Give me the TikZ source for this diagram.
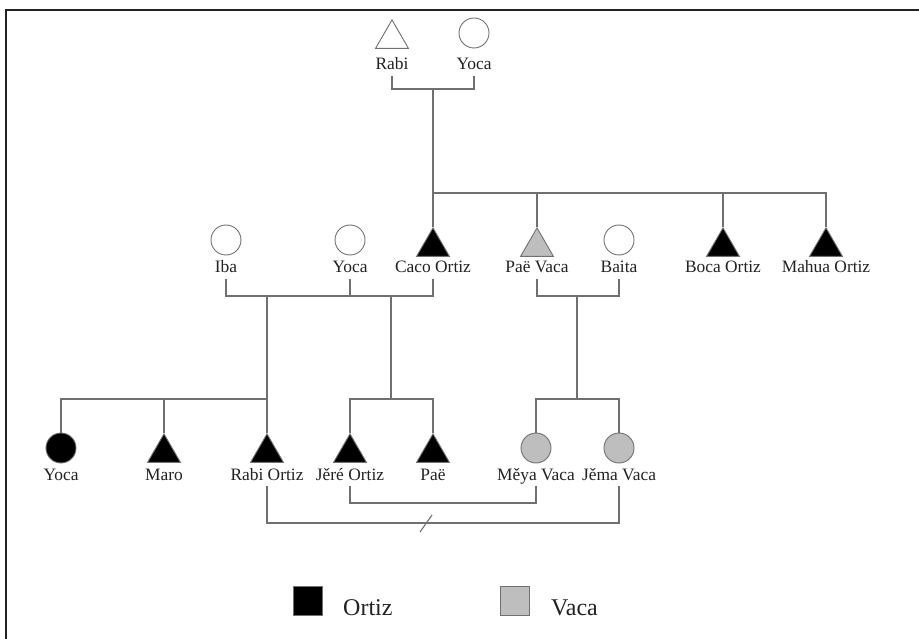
\documentclass[tikz,border=0pt]{standalone}
\usepackage{fontspec}
\setmainfont{Liberation Serif}
\usepackage{tikz}
\usetikzlibrary{shapes.geometric}
\definecolor{linegray}{HTML}{707070}
\definecolor{vacagray}{HTML}{BEBEBE}
\definecolor{inkdark}{HTML}{222222}

\tikzset{
  male/.style={regular polygon, regular polygon sides=3, minimum size=38pt,
    inner sep=0pt, draw=linegray, line width=0.9pt, anchor=north},
  female/.style={circle, minimum size=30pt, inner sep=0pt, draw=linegray, line width=0.9pt},
  lbl/.style={font=\fontsize{17.4}{19}\selectfont, text=inkdark, inner sep=2pt,
    text height=12pt, text depth=4pt, anchor=base},
  kin/.style={draw=linegray, line width=1.1pt},
  keybox/.style={rectangle, minimum size=29pt, inner sep=0pt, draw=linegray, line width=0.9pt},
  keytext/.style={font=\fontsize{24}{26}\selectfont, text=inkdark, inner sep=0pt, anchor=base west}
}

\begin{document}
\begin{tikzpicture}[x=1pt, y=-1pt]
      \useasboundingbox (0,0) rectangle (919,639);
      \draw[inkdark, line width=1.6pt] (6,639) -- (6,10) -- (919,10);

      % first generation
      \node[male] (rabi) at (392,19) {};
      \node[female] (yoca) at (474,33) {};
      \node[lbl] (rabi-l) at (392,70) {Rabi};
      \node[lbl] (yoca-l) at (474,70) {Yoca};

      % second generation
      \node[female] (iba) at (226,240) {};
      \node[female] (yoca2) at (350,240) {};
      \node[male, fill=black] (caco) at (433,227) {};
      \node[male, fill=vacagray] (paev) at (537,227) {};
      \node[female] (baita) at (619,240) {};
      \node[male, fill=black] (boca) at (723,227) {};
      \node[male, fill=black] (mahua) at (826,227) {};

      \node[lbl] (iba-l) at (226,273) {Iba};
      \node[lbl] (yoca2-l) at (350,273) {Yoca};
      \node[lbl] (caco-l) at (433,273) {Caco Ortiz};
      \node[lbl] (paev-l) at (537,273) {Paë Vaca};
      \node[lbl] (baita-l) at (619,273) {Baita};
      \node[lbl] (boca-l) at (723,273) {Boca Ortiz};
      \node[lbl] (mahua-l) at (826,273) {Mahua Ortiz};

      % third generation
      \node[female, fill=black] (yoca3) at (61,448) {};
      \node[male, fill=black] (maro) at (164,433) {};
      \node[male, fill=black] (rabio) at (267,433) {};
      \node[male, fill=black] (jere) at (350,433) {};
      \node[male, fill=black] (pae) at (433,433) {};
      \node[female, fill=vacagray] (meya) at (536,448) {};
      \node[female, fill=vacagray] (jema) at (619,448) {};

      \node[lbl] (yoca3-l) at (61,480) {Yoca};
      \node[lbl] (maro-l) at (164,480) {Maro};
      \node[lbl] (rabio-l) at (267,480) {Rabi Ortiz};
      \node[lbl] (jere-l) at (350,480) {Jěré Ortiz};
      \node[lbl] (pae-l) at (433,480) {Paë};
      \node[lbl] (meya-l) at (536,480) {Měya Vaca};
      \node[lbl] (jema-l) at (619,480) {Jěma Vaca};

      \coordinate (m1) at (433,89);
      \coordinate (s1) at (433,193);
      \coordinate (m2a) at (267,296);
      \coordinate (m2b) at (391,296);
      \coordinate (s2a) at (267,399);
      \coordinate (s2b) at (391,399);
      \coordinate (m3) at (577,296);
      \coordinate (s3) at (577,399);
      \coordinate (m4) at (443,503);
      \coordinate (m5) at (426,523);

      \draw[kin] (rabi-l.south) |- (m1) -| (yoca-l.south);
      \draw[kin] (m1) -- (caco.north);
      \foreach \c in {paev,boca,mahua}
        \draw[kin] (s1) -| (\c.north);

      \draw[kin] (iba-l.south) |- (m2a) -| (caco-l.south);
      \draw[kin] (yoca2-l.south) -- (yoca2-l.south |- m2a);
      \draw[kin] (m2a) -- (rabio.north);
      \foreach \c in {yoca3,maro}
        \draw[kin] (s2a) -| (\c.north);
      \draw[kin] (m2b) -- (s2b);
      \foreach \c in {jere,pae}
        \draw[kin] (s2b) -| (\c.north);

      \draw[kin] (paev-l.south) |- (m3) -| (baita-l.south);
      \draw[kin] (m3) -- (s3);
      \foreach \c in {meya,jema}
        \draw[kin] (s3) -| (\c.north);

      \draw[kin] (jere-l.south) |- (m4) -| (meya-l.south);
      \draw[kin] (rabio-l.south) |- (m5) -| (jema-l.south);
      \draw[kin] ([shift={(-6,9)}]m5) -- ([shift={(6,-8)}]m5);

      % key
      \node[keybox, fill=black] (kortiz) at (308,601) {};
      \node[keytext] (tortiz) at (343,615) {Ortiz};
      \node[keybox, fill=vacagray] (kvaca) at (515,601) {};
      \node[keytext] (tvaca) at (551,615) {Vaca};
    \end{tikzpicture}
\end{document}
